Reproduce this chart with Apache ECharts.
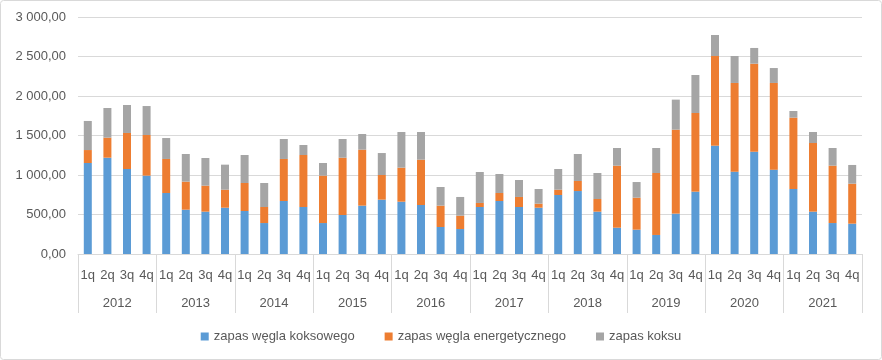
<!DOCTYPE html>
<html><head><meta charset="utf-8">
<script src="https://cdn.jsdelivr.net/npm/echarts@6/dist/echarts.min.js"></script>
<style>html,body{margin:0;padding:0;background:#fff}#c{width:882px;height:360px}</style>
</head><body><div id="c"></div>
<script>
const years = ['2012','2013','2014','2015','2016','2017','2018','2019','2020','2021'];
const quarters = ['1q','2q','3q','4q'];
const yTicks = [0, 500, 1000, 1500, 2000, 2500, 3000];
const seriesNames = ['zapas węgla koksowego', 'zapas węgla energetycznego', 'zapas koksu'];
const koksowy = [1152,1219,1076,992, 772,561,536,586, 544,392,671,595, 392,494,612,688, 662,620,342,316, 595,671,595,586, 747,797,536,333, 308,241,511,789, 1371,1042,1295,1068, 823,536,392,384];
const energetyczny = [164,254,456,514, 431,355,329,228, 355,203,532,658, 600,725,709,312, 431,574,270,169, 51,101,127,51, 67,127,160,785, 405,784,1063,996, 1135,1123,1114,1097, 903,869,726,506];
const koks = [368,375,354,367, 265,350,350,317, 354,304,253,127, 160,237,198,278, 451,350,236,237, 392,241,215,186, 262,342,329,224, 198,317,380,481, 266,341,199,189, 84,139,224,237];

const qCats = [];
years.forEach(y => quarters.forEach(q => qCats.push(q)));
const colors = ['#5B9BD5', '#ED7D31', '#A5A5A5'];
const font = 'Liberation Sans';
function fmt(v){
  const s = Math.round(v).toString().replace(/\B(?=(\d{3})+(?!\d))/g, ' ');
  return s + ',00';
}
const chart = echarts.init(document.getElementById('c'));
chart.setOption({
  animation: false,
  color: colors,
  graphic: [{type:'rect', shape:{x:0.5,y:0.5,width:881,height:359,r:3}, style:{fill:'none', stroke:'#d9d9d9', lineWidth:1}}],
  grid: {left: 78, right: 20, top: 17, bottom: 106},
  legend: {
    bottom: 12, left: 'center', itemWidth: 8, itemHeight: 8, itemGap: 30, icon: 'rect',
    textStyle: {color: '#595959', fontSize: 13, fontFamily: font}
  },
  xAxis: [
    {type:'category', data: qCats, position:'bottom',
     axisLine:{lineStyle:{color:'#d9d9d9'}}, axisTick:{show:false},
     axisLabel:{interval:0, color:'#595959', fontSize:13, fontFamily:font, margin:15}},
    {type:'category', data: years, position:'bottom', offset:0,
     axisLine:{show:false},
     axisTick:{show:true, length:59, lineStyle:{color:'#d9d9d9'}},
     axisLabel:{interval:0, color:'#595959', fontSize:13, fontFamily:font, margin:43}}
  ],
  yAxis: {type:'value', min: yTicks[0], max: yTicks[yTicks.length-1], interval: 500,
    axisLine:{show:false}, axisTick:{show:false},
    splitLine:{lineStyle:{color:'#d9d9d9'}},
    axisLabel:{formatter: fmt, color:'#595959', fontSize:13, fontFamily:font, margin:12}},
  series: [koksowy, energetyczny, koks].map((d, i) => ({
    name: seriesNames[i], type:'bar', stack:'s', data: d, barWidth: 8, xAxisIndex: 0
  }))
});
</script></body></html>
